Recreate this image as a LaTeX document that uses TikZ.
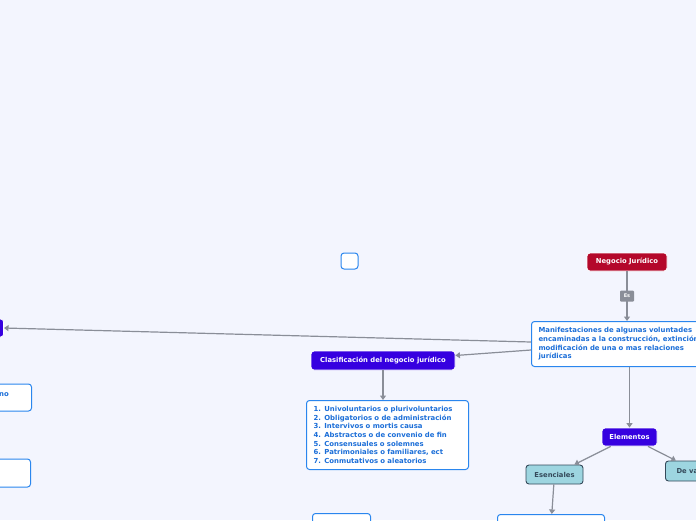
\documentclass[tikz,border=0pt]{standalone}
\usepackage{fontspec}
\setmainfont{DejaVu Sans}
\usetikzlibrary{positioning,arrows.meta}
\definecolor{bgcol}{HTML}{F3F5FE}
\definecolor{rootred}{HTML}{B4082B}
\definecolor{topicblue}{HTML}{3600E0}
\definecolor{leafblue}{HTML}{2A86EE}
\definecolor{leaftext}{HTML}{1B6ED8}
\definecolor{subteal}{HTML}{9DD5E0}
\definecolor{subedge}{HTML}{34495A}
\definecolor{linkgray}{HTML}{8A8E98}

\begin{document}
\begin{tikzpicture}[
 x=1pt, y=-1pt,
 rootbox/.style={rectangle, draw=white, line width=0.8pt, fill=rootred, text=white, rounded corners=3pt, minimum height=18pt, font=\bfseries\fontsize{6.8}{8}\selectfont},
 topicbox/.style={rectangle, draw=white, line width=0.8pt, fill=topicblue, text=white, rounded corners=3pt, minimum height=18pt, font=\bfseries\fontsize{6.8}{8}\selectfont},
 subbox/.style={rectangle, draw=subedge, line width=0.9pt, fill=subteal, text=subedge, rounded corners=3pt, minimum height=19pt, font=\bfseries\fontsize{6.8}{8}\selectfont},
 leafbox/.style={rectangle, draw=leafblue, line width=1pt, fill=white, text=leaftext, rounded corners=3pt, align=left, font=\bfseries\fontsize{6.9}{8.6}\selectfont},
 linklabel/.style={rectangle, fill=linkgray, text=white, rounded corners=1pt, minimum width=14pt, minimum height=11pt, inner sep=1pt, font=\bfseries\fontsize{5}{6}\selectfont},
 arrow/.style={-{Triangle[length=4.5pt,width=6pt]}, draw=linkgray, line width=1.2pt}
 ]
 % Background
 \fill[bgcol] (0,0) rectangle (696,520);
 \clip (0,0) rectangle (696,520);

 % Root and definition
 \node[rootbox, minimum width=80pt] (negocio) at (627,262) {Negocio Jurídico};
 \node[leafbox, anchor=north west, minimum height=45pt, text width=200pt, inner xsep=7pt] (manif) at (531,321)
 {Manifestaciones de algunas voluntades\\encaminadas a la construcción, extinción o\\modificación de una o mas relaciones\\jurídicas};

 % Clasificacion
 \node[topicbox, minimum width=144pt, minimum height=19pt] (clasif) at (383,360.5) {Clasificación del negocio jurídico};
 \node[leafbox, anchor=north west, text width=148pt, minimum height=69pt, inner xsep=7pt] (lista) at (306,400)
 {1. Univoluntarios o plurivoluntarios\\
 2. Obligatorios o de administración\\
 3. Intervivos o mortis causa\\
 4. Abstractos o de convenio de fin\\
 5. Consensuales o solemnes\\
 6. Patrimoniales o familiares, ect\\
 7. Conmutativos o aleatorios};

 % Elementos
 \node[topicbox, minimum width=55pt] (elem) at (629.5,437) {Elementos};
 \node[subbox, minimum width=57pt] (esen) at (554.5,474.5) {Esenciales};
 \node[subbox, anchor=west, minimum width=62pt, minimum height=20pt] (deval) at (665,471) {De validez};
 \node[leafbox, anchor=north west, minimum width=107pt, minimum height=22pt] (esenbox) at (497,514) {};

 % Left side and loose nodes
 \node[topicbox, anchor=east, minimum width=40pt] (left) at (4,328) {};
 \node[leafbox, anchor=east, minimum width=120pt, minimum height=27pt] (leftA) at (32,397.5) {};
 \node[leafbox, anchor=east, minimum width=120pt, minimum height=28pt] (leftB) at (31,473) {};
 \node[leaftext, font=\bfseries\fontsize{6.9}{8}\selectfont, anchor=east, inner sep=0pt] (leftAtxt) at (9,395) {no};
 \node[leafbox, minimum width=17pt, minimum height=16pt, inner sep=0pt] (empty) at (349.5,261) {};
 \node[leafbox, anchor=north west, minimum width=58pt, minimum height=22pt] (lowbox) at (312,513) {};

 % Connectors
 \draw[arrow] (negocio) -- node[linklabel, pos=0.5] (es) {Es} (negocio |- manif.north);
 \draw[arrow] ([yshift=2pt]manif.west) -- (left.east);
 \draw[arrow] ([yshift=-6pt]manif.west) -- ([yshift=5pt]clasif.east);
 \draw[arrow] (clasif) -- (lista.north -| clasif);
 \draw[arrow] (elem |- manif.south) -- (elem.north);
 \draw[arrow] (elem) -- (esen);
 \draw[arrow] (elem) -- (deval);
 \draw[arrow] (esen) -- (esenbox);
\end{tikzpicture}
\end{document}
